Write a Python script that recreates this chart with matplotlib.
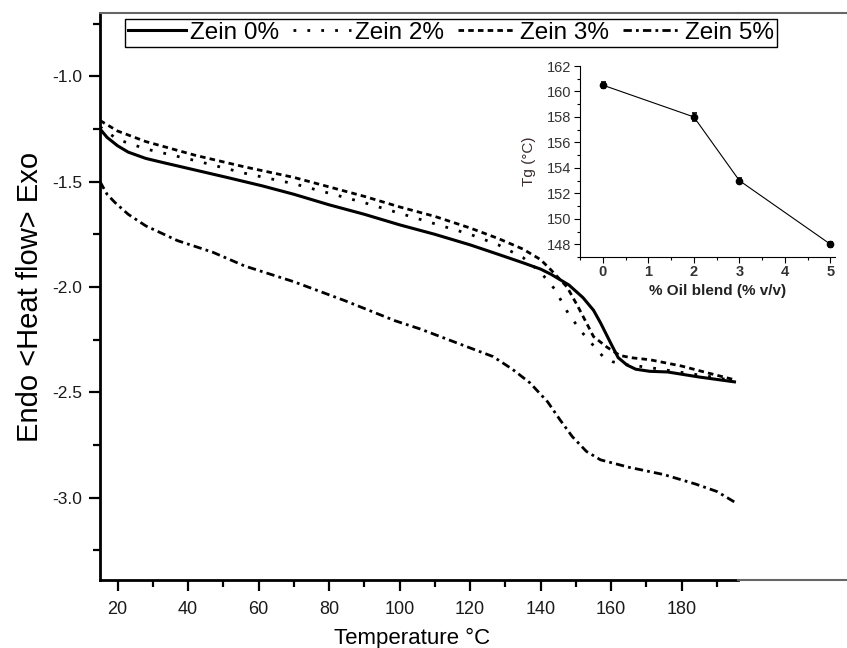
import numpy as np
import matplotlib
matplotlib.use("Agg")
import matplotlib.pyplot as plt
from matplotlib.lines import Line2D

plt.rcParams["font.family"] = ["Liberation Sans", "DejaVu Sans"]

# DSC curves (temperature in degC, heat flow)
t_z0 = [15, 17, 20, 23, 28, 33, 42, 51, 61, 70, 80, 90, 100, 110, 120, 128,
        135, 140, 143, 148, 152, 155, 157, 160, 162, 164.5, 167, 171, 176, 185, 195]
hf_z0 = [-1.25, -1.29, -1.33, -1.36, -1.39, -1.41, -1.445, -1.48, -1.52, -1.56,
         -1.61, -1.655, -1.705, -1.75, -1.80, -1.845, -1.885, -1.915, -1.94,
         -1.99, -2.05, -2.11, -2.17, -2.27, -2.335, -2.37, -2.39, -2.40, -2.403,
         -2.427, -2.45]

t_z2 = [15, 20, 28, 42, 56, 70, 80, 90, 100, 110, 120, 128, 135, 140, 144, 148,
        152, 157.7, 160.5, 165, 170, 180, 188, 195]
hf_z2 = [-1.24, -1.30, -1.345, -1.40, -1.46, -1.51, -1.555, -1.60, -1.65, -1.70,
         -1.75, -1.80, -1.86, -1.93, -2.01, -2.13, -2.22, -2.33, -2.355, -2.37,
         -2.38, -2.405, -2.425, -2.445]

t_z3 = [15, 20, 28, 42, 56, 70, 80, 90, 100, 110, 120, 128, 135, 140, 143, 147.5,
        150.5, 153, 155, 158.8, 162.5, 166, 171, 180, 188, 195]
hf_z3 = [-1.21, -1.26, -1.31, -1.375, -1.43, -1.48, -1.525, -1.57, -1.62, -1.665,
         -1.72, -1.77, -1.82, -1.87, -1.92, -2.00, -2.09, -2.17, -2.235, -2.285,
         -2.325, -2.336, -2.345, -2.375, -2.41, -2.44]

t_z5 = [15, 17, 19.3, 23, 28, 37, 47, 56, 70, 84.5, 98.7, 106, 117, 126.5, 132,
        137, 142, 145.5, 149, 153, 157, 165, 175, 184, 190, 195]
hf_z5 = [-1.50, -1.56, -1.60, -1.655, -1.71, -1.78, -1.835, -1.90, -1.975, -2.065,
         -2.16, -2.20, -2.27, -2.33, -2.39, -2.455, -2.545, -2.63, -2.71, -2.78,
         -2.82, -2.855, -2.89, -2.935, -2.97, -3.02]

# inset: glass transition vs oil blend
oil = [0, 2, 3, 5]
tg = [160.5, 158.0, 153.0, 148.0]
tg_err = [0.25, 0.3, 0.2, 0.2]

W, H = 847, 648
fig = plt.figure(figsize=(W / 100, H / 100), dpi=100)

# main layer (pixel box 100..738 x 13..580)
L, R, T, B = 100, 738, 13, 580
ax = fig.add_axes([L / W, 1 - B / H, (R - L) / W, (B - T) / H])
ax.plot(t_z0, hf_z0, color="black", lw=2.2, ls="-", label="Zein 0%")
ax.plot(t_z2, hf_z2, color="black", lw=2.0, ls=(0, (1, 4)), label="Zein 2%")
ax.plot(t_z3, hf_z3, color="black", lw=2.0, ls=(0, (2, 1.5)), label="Zein 3%")
ax.plot(t_z5, hf_z5, color="black", lw=2.0, ls=(0, (3, 1.5, 1, 1.5)), label="Zein 5%")

ax.set_xlim(15, 196)
ax.set_ylim(-3.39, -0.70)
ax.set_xticks(range(20, 181, 20))
ax.set_xticks(range(30, 191, 20), minor=True)
ax.set_yticks([-1.0, -1.5, -2.0, -2.5, -3.0])
ax.set_yticks([-0.75, -1.25, -1.75, -2.25, -2.75, -3.25], minor=True)
ax.set_yticklabels(["-1.0", "-1.5", "-2.0", "-2.5", "-3.0"])
ax.tick_params(which="major", direction="out", length=8, width=1.6,
               labelsize=13, labelcolor="#1a1a1a", top=False, right=False)
ax.tick_params(axis="x", which="major", pad=7)
ax.tick_params(axis="y", which="major", labelsize=12.5, pad=5)
ax.tick_params(which="minor", direction="out", length=5, width=1.6,
               top=False, right=False)
for s in ("left", "bottom"):
    ax.spines[s].set_linewidth(2)
ax.spines["right"].set_visible(False)
ax.spines["top"].set_color("#666666")
ax.spines["top"].set_linewidth(1.5)
ax.set_xlabel("Temperature \u00b0C", fontsize=16)
ax.xaxis.set_label_coords(0.489, -0.085)
ax.set_ylabel("Endo <Heat flow> Exo", fontsize=21)
ax.yaxis.set_label_coords(-0.088, 0.5)

# grey frame of the origin layer continuing to the right edge
fig.add_artist(Line2D([R / W, 1], [1 - T / H, 1 - T / H], color="#666666", lw=1.5))
fig.add_artist(Line2D([R / W, 1], [1 - B / H, 1 - B / H], color="#666666", lw=1.5))

leg = ax.legend(loc="upper left", bbox_to_anchor=(125 / W, 1 - 19 / H),
                bbox_transform=fig.transFigure, ncol=4, fontsize=17.5,
                handlelength=2.4, handletextpad=0.17, columnspacing=0.55,
                borderpad=0.12, borderaxespad=0, fancybox=False, framealpha=1)
leg.get_frame().set_edgecolor("black")
leg.get_frame().set_linewidth(1.0)

# inset
iL, iR, iT, iB = 580, 835, 66, 257
ins = fig.add_axes([iL / W, 1 - iB / H, (iR - iL) / W, (iB - iT) / H])
ins.errorbar(oil, tg, yerr=tg_err, color="black", lw=0.8, marker="o", ms=4.5,
             capsize=1.8, elinewidth=1.2, capthick=1.2)
ins.set_xlim(-0.5, 5.1)
ins.set_ylim(147, 162)
ins.set_xticks(range(0, 6))
ins.set_xticks(np.arange(-0.5, 5.1, 0.5), minor=True)
ins.set_yticks(range(148, 163, 2))
ins.set_yticks(range(147, 162, 2), minor=True)
ins.tick_params(which="major", direction="out", length=4, width=0.8, pad=2,
                labelsize=10.5, labelcolor="#333333")
ins.tick_params(which="minor", direction="out", length=2.5, width=0.8)
for lab in ins.get_xticklabels():
    lab.set_fontweight("bold")
ins.spines["top"].set_visible(False)
ins.spines["right"].set_visible(False)
ins.set_xlabel("% Oil blend (% v/v)", fontsize=11, fontweight="bold",
               color="#222222", labelpad=2)
ins.xaxis.set_label_coords(0.54, -0.14)
ins.set_ylabel("Tg (\u00b0C)", fontsize=11, color="#3a2a2a", labelpad=8)
ins.patch.set_alpha(0)

fig.savefig("out.png", dpi=100)
